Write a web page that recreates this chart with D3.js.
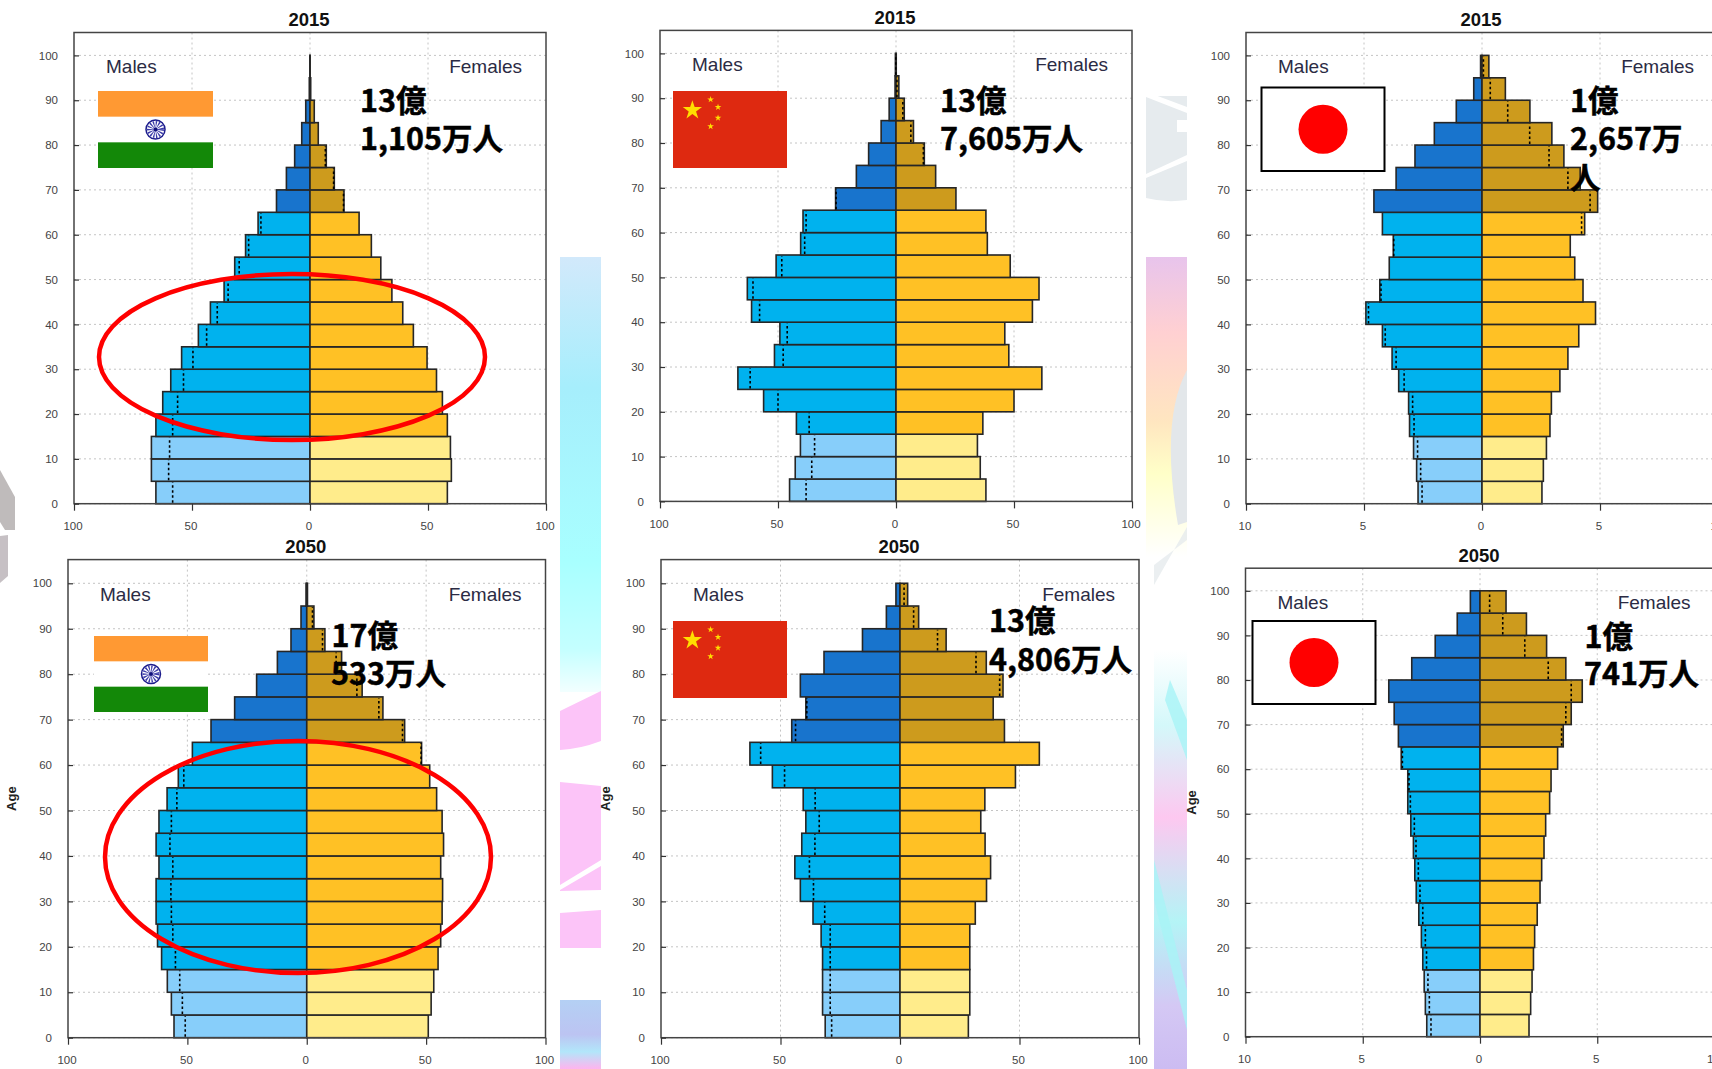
<!DOCTYPE html>
<html>
<head>
<meta charset="utf-8">
<script src="https://cdn.jsdelivr.net/npm/d3@7"></script>
<style>
    html, body { margin: 0; padding: 0; background: #fff; overflow: hidden; }
    svg { display: block; }
    text { font-family: "Liberation Sans", Arial, sans-serif; }
    .big { font-family: "Noto Sans CJK JP", sans-serif; font-weight: 700; font-size: 30.5px; fill: #000; stroke: #000; stroke-width: 0.5px; }
</style>
</head>
<body>
<svg id="chart" width="1712" height="1069"></svg>
<script>
// lower edge of each 5 year group, 0-4 ... 95-99
const ages = d3.range(0, 100, 5)

// values, youngest group first
const indiaMale2015 = [65.3, 67.2, 67.2, 65.3, 62.4, 59, 54.4, 47.3, 42.2, 36.4, 31.9, 27.3, 22, 14.2, 10, 6.5, 3.5, 1.8, 0.3, 0.05]
const indiaFemale2015 = [58.2, 59.9, 59.5, 58.2, 56.1, 53.6, 49.6, 43.8, 39.3, 34.7, 30, 26, 20.8, 14.4, 10.3, 6.9, 3.5, 1.8, 0.3, 0.05]
const chinaMale2015 = [45.1, 42.7, 40.5, 42.2, 56.1, 67, 51.5, 49.2, 61.2, 63, 50.8, 40.4, 39.4, 25.6, 16.8, 11.6, 6.3, 2.9, 0.4, 0.25]
const chinaFemale2015 = [38.1, 35.7, 34.5, 36.8, 50, 61.8, 47.8, 46.1, 57.8, 60.6, 48.4, 38.7, 38.1, 25.4, 16.8, 12, 7.4, 3.5, 1.2, 0.1]
const japanMale2015 = [2.71, 2.77, 2.9, 3.07, 3.11, 3.53, 3.81, 4.22, 4.92, 4.33, 3.93, 3.76, 4.22, 4.58, 3.64, 2.84, 2.02, 1.09, 0.35, 0.06]
const japanFemale2015 = [2.54, 2.6, 2.73, 2.88, 2.94, 3.3, 3.64, 4.1, 4.81, 4.28, 3.93, 3.74, 4.35, 4.9, 4.16, 3.47, 2.96, 2.03, 0.99, 0.29]
const indiaMale2050 = [55.6, 56.7, 58.4, 60.8, 62.5, 63.1, 63.1, 61.9, 63.1, 61.9, 58.5, 53.8, 47.9, 40.1, 30.2, 21, 12.3, 6.6, 2.4, 0.3]
const indiaFemale2050 = [50.9, 52.1, 53.2, 55, 56.1, 56.7, 56.9, 56.1, 57.3, 56.7, 54.4, 51.5, 48.1, 41, 31.9, 23.2, 14.6, 7.6, 3, 0.3]
const chinaMale2050 = [31.3, 32.4, 32.4, 32.4, 33, 36.4, 41.7, 44, 41.1, 39.4, 40.5, 53.4, 62.8, 45.3, 39.4, 41.7, 31.8, 15.7, 5.7, 1.7]
const chinaFemale2050 = [28.6, 29.2, 29.2, 29.2, 29.2, 31.5, 36.2, 37.9, 35.6, 33.8, 35.5, 48.3, 58.3, 43.7, 39, 43.1, 36.1, 19.3, 7.8, 3.2]
const japanMale2050 = [2.27, 2.33, 2.38, 2.44, 2.5, 2.61, 2.72, 2.78, 2.84, 2.95, 3.08, 3.08, 3.36, 3.48, 3.66, 3.89, 2.91, 1.91, 0.97, 0.41]
const japanFemale2050 = [2.09, 2.16, 2.22, 2.28, 2.33, 2.44, 2.56, 2.63, 2.73, 2.8, 2.97, 3.03, 3.31, 3.55, 3.89, 4.36, 3.66, 2.84, 1.98, 1.11]

// layout per chart, in page pixels
const panels = [
    { year: "2015", male: indiaMale2015, female: indiaFemale2015, max: 100, left: 74, x0: 310, right: 546, top: 32.5, y100: 55.4, bottom: 503.7, flag: { kind: "india", x: 98, y: 91, w: 115, h: 77 }, big: [["13億", 360, 112], ["1,105万人", 360, 150]], ring: { cx: 292, cy: 357, rx: 193, ry: 83 } },
    { year: "2015", male: chinaMale2015, female: chinaFemale2015, max: 100, left: 660, x0: 896, right: 1132, top: 30.4, y100: 53.4, bottom: 501.4, flag: { kind: "china", x: 673, y: 91, w: 114, h: 77 }, big: [["13億", 940, 112], ["7,605万人", 940, 150]] },
    { year: "2015", male: japanMale2015, female: japanFemale2015, max: 10, left: 1246, x0: 1482, right: 1718, top: 32.5, y100: 55.4, bottom: 503.7, flag: { kind: "japan", x: 1261.5, y: 87.5, w: 123, h: 83.5 }, big: [["1億", 1570, 112], ["2,657万", 1570, 150], ["人", 1570, 189]] },
    { year: "2050", male: indiaMale2050, female: indiaFemale2050, max: 100, left: 68, x0: 307, right: 545.5, top: 559.6, y100: 583.3, bottom: 1037.7, age: 16, flag: { kind: "india", x: 94, y: 636, w: 114, h: 76 }, big: [["17億", 331.5, 647], ["533万人", 331, 685]], ring: { cx: 298, cy: 857, rx: 193, ry: 116 } },
    { year: "2050", male: chinaMale2050, female: chinaFemale2050, max: 100, left: 661, x0: 900, right: 1139, top: 559.6, y100: 583.3, bottom: 1037.7, age: 610, flag: { kind: "china", x: 673, y: 621, w: 114, h: 77 }, big: [["13億", 989, 632], ["4,806万人", 989, 671]] },
    { year: "2050", male: japanMale2050, female: japanFemale2050, max: 10, left: 1245.5, x0: 1480, right: 1714.5, top: 568.2, y100: 590.8, bottom: 1036.7, age: 1196, flag: { kind: "japan", x: 1252.5, y: 621, w: 123, h: 83 }, big: [["1億", 1584.5, 647.5], ["741万人", 1584, 685]] },
]

const maleColor = (age) => (age < 15 ? "#87CEFA" : age < 65 ? "#00B2EE" : "#1874CD")
const femaleColor = (age) => (age < 15 ? "#FFEC8B" : age < 65 ? "#FFC125" : "#CD9B1D")

const svg = d3.select("#chart")
const defs = svg.append("defs")

function gradient(id, stops) {
    const g = defs.append("linearGradient").attr("id", id).attr("x1", 0).attr("x2", 0).attr("y1", 0).attr("y2", 1)
    stops.forEach(([o, c]) => g.append("stop").attr("offset", o).attr("stop-color", c))
}

// bits of the slide background that show between the charts
function drawBackground() {
    const bg = svg.append("g")
    gradient("stripA", [[0, "#d2e9fb"], [0.3, "#a6eefc"], [0.7, "#a8ffff"], [0.9, "#c4ffff"], [1, "#f2ffff"]])
    gradient("stripB", [[0, "#b4d0f4"], [0.5, "#bcc4f2"], [0.75, "#b2e6fa"], [1, "#ffb4ee"]])
    gradient("stripC", [[0, "#e8c4ec"], [0.25, "#ffd0d2"], [0.55, "#ffe6c0"], [0.72, "#ffffc8"], [1, "#ffffff"]])
    gradient("stripD", [[0, "#ffffff"], [0.18, "#d4f8fa"], [0.4, "#fdc8f0"], [0.65, "#b4f4f6"], [0.85, "#d4c8f4"], [1, "#ccbcf2"]])

    bg.append("rect").attr("x", 560).attr("y", 257).attr("width", 41).attr("height", 435).attr("fill", "url(#stripA)")
    bg.append("path").attr("d", "M560,711L601,691V741Q580,749 560,750Z").attr("fill", "#fcc4f8")
    bg.append("path").attr("d", "M560,782L601,786V948L560,948Z").attr("fill", "#fcc4f8")
    bg.append("path").attr("d", "M560,885L601,860V866L560,890ZM560,891L601,890V910L560,913Z").attr("fill", "#ffffff")
    bg.append("rect").attr("x", 560).attr("y", 1000).attr("width", 41).attr("height", 69).attr("fill", "url(#stripB)")

    bg.append("path").attr("d", "M1146,96H1187V200Q1165,203 1146,198Z").attr("fill", "#e6ebee")
    bg.append("path").attr("d", "M1155,95L1187,107V113L1146,97V95Z").attr("fill", "#fff")
    bg.append("path").attr("d", "M1146,174L1187,155V161L1146,178Z").attr("fill", "#fff")
    bg.append("rect").attr("x", 1177).attr("y", 120).attr("width", 10).attr("height", 12).attr("fill", "#fff")
    bg.append("rect").attr("x", 1146).attr("y", 257).attr("width", 41).attr("height", 300).attr("fill", "url(#stripC)")
    bg.append("path").attr("d", "M1187,370Q1160,420 1178,525L1187,522Z").attr("fill", "#e3e7ea")
    bg.append("path").attr("d", "M1154,585L1187,527V540L1154,565Z").attr("fill", "#e6ebee").attr("opacity", 0.8)
    bg.append("rect").attr("x", 1154).attr("y", 650).attr("width", 33).attr("height", 419).attr("fill", "url(#stripD)")
    bg.append("path").attr("d", "M1170,680L1187,720V760L1165,700ZM1154,860L1187,990V1030L1154,900Z").attr("fill", "#a8f4f6").attr("opacity", 0.8)

    bg.append("path").attr("d", "M0,470L15,497V530H5L0,522Z").attr("fill", "#bfbbbb")
    bg.append("path").attr("d", "M0,536L8,535V576L0,583Z").attr("fill", "#c6c0c4")
}

function drawFlag(g, f) {
    if (f.kind === "india") {
        g.append("rect").attr("x", f.x).attr("y", f.y).attr("width", f.w).attr("height", f.h).attr("fill", "#fff")
        g.append("rect").attr("x", f.x).attr("y", f.y).attr("width", f.w).attr("height", f.h / 3).attr("fill", "#FF9933")
        g.append("rect").attr("x", f.x).attr("y", f.y + (f.h * 2) / 3).attr("width", f.w).attr("height", f.h / 3).attr("fill", "#138808")
        const cx = f.x + f.w / 2
        const cy = f.y + f.h / 2
        g.append("circle").attr("cx", cx).attr("cy", cy).attr("r", 9.5).attr("fill", "#fff").attr("stroke", "#1c1c8c").attr("stroke-width", 1.5)
        g.append("circle").attr("cx", cx).attr("cy", cy).attr("r", 5).attr("fill", "none").attr("stroke", "#3a3aa8").attr("stroke-width", 7).attr("stroke-dasharray", "1 1.1")
        g.append("circle").attr("cx", cx).attr("cy", cy).attr("r", 2).attr("fill", "#10107c")
    } else if (f.kind === "china") {
        g.append("rect").attr("x", f.x).attr("y", f.y).attr("width", f.w).attr("height", f.h).attr("fill", "#DE2910")
        const star = d3.symbol().type(d3.symbolStar)
        g.append("path").attr("d", star.size(115)()).attr("fill", "#FFDE00")
            .attr("transform", `translate(${f.x + f.w * 0.17}, ${f.y + f.h * 0.25})`)
        const small = [[0.33, 0.11], [0.395, 0.21], [0.395, 0.35], [0.33, 0.46]]
        small.forEach(([a, b]) => {
            g.append("path").attr("d", star.size(14)()).attr("fill", "#FFDE00")
                .attr("transform", `translate(${f.x + f.w * a}, ${f.y + f.h * b})`)
        })
    } else {
        g.append("rect").attr("x", f.x).attr("y", f.y).attr("width", f.w).attr("height", f.h).attr("fill", "#fff").attr("stroke", "#000").attr("stroke-width", 2)
        g.append("circle").attr("cx", f.x + f.w / 2).attr("cy", f.y + f.h / 2).attr("r", 24.5).attr("fill", "#FF0000")
    }
}

function drawPanel(p) {
    const g = svg.append("g")
    const x = d3.scaleLinear().domain([-p.max, p.max]).range([p.left, p.right])
    const y = d3.scaleLinear().domain([0, 100]).range([p.bottom, p.y100])
    const rows = ages.map((age, i) => ({ age, m: p.male[i], f: p.female[i] }))
    const xTicks = [-p.max, -p.max / 2, 0, p.max / 2, p.max]
    const yTicks = d3.range(0, 101, 10)

    g.append("rect")
        .attr("x", p.left)
        .attr("y", p.top)
        .attr("width", p.right - p.left)
        .attr("height", p.bottom - p.top)
        .attr("fill", "#fff")

    // dotted grid
    g.append("g")
        .selectAll("line")
        .data(yTicks)
        .join("line")
        .attr("x1", p.left)
        .attr("x2", p.right)
        .attr("y1", (d) => y(d))
        .attr("y2", (d) => y(d))
        .attr("stroke", "#c4c4c4")
        .attr("stroke-width", 1)
        .attr("stroke-dasharray", "2 3")
    g.append("g")
        .selectAll("line")
        .data(xTicks.slice(1, 4))
        .join("line")
        .attr("x1", (d) => x(d))
        .attr("x2", (d) => x(d))
        .attr("y1", p.top)
        .attr("y2", p.bottom)
        .attr("stroke", "#c4c4c4")
        .attr("stroke-width", 1)
        .attr("stroke-dasharray", "2 3")

    g.append("g")
        .selectAll("rect")
        .data(rows)
        .join("rect")
        .attr("x", (d) => x(-d.m))
        .attr("y", (d) => y(d.age + 5))
        .attr("width", (d) => x(0) - x(-d.m))
        .attr("height", (d) => y(d.age) - y(d.age + 5))
        .attr("fill", (d) => maleColor(d.age))
        .attr("stroke", "#262626")
        .attr("stroke-width", 1.6)
    g.append("g")
        .selectAll("rect")
        .data(rows)
        .join("rect")
        .attr("x", x(0))
        .attr("y", (d) => y(d.age + 5))
        .attr("width", (d) => x(d.f) - x(0))
        .attr("height", (d) => y(d.age) - y(d.age + 5))
        .attr("fill", (d) => femaleColor(d.age))
        .attr("stroke", "#262626")
        .attr("stroke-width", 1.6)

    // dotted marker: the smaller sex mirrored onto the larger side
    g.append("g")
        .selectAll("line")
        .data(rows.filter((d) => d.m !== d.f))
        .join("line")
        .attr("x1", (d) => (d.m > d.f ? x(-d.f) : x(d.m)))
        .attr("x2", (d) => (d.m > d.f ? x(-d.f) : x(d.m)))
        .attr("y1", (d) => y(d.age) - 1)
        .attr("y2", (d) => y(d.age + 5) + 1)
        .attr("stroke", "#000")
        .attr("stroke-width", 1.6)
        .attr("stroke-dasharray", "2.5 2.5")

    g.append("rect")
        .attr("x", p.left)
        .attr("y", p.top)
        .attr("width", p.right - p.left)
        .attr("height", p.bottom - p.top)
        .attr("fill", "none")
        .attr("stroke", "#444")
        .attr("stroke-width", 1.5)

    const axisLeft = g.append("g")
        .attr("transform", `translate(${p.left}, 0)`)
        .call(d3.axisLeft(y).tickValues(yTicks).tickSize(-5).tickPadding(16))
    const axisBottom = g.append("g")
        .attr("transform", `translate(0, ${p.bottom})`)
        .call(d3.axisBottom(x).tickValues(xTicks).tickSize(7).tickPadding(11).tickFormat((d) => Math.abs(d)))
    for (const a of [axisLeft, axisBottom]) {
        a.select(".domain").remove()
        a.selectAll("line").attr("stroke", "#333").attr("stroke-width", 1.2)
        a.selectAll("text").attr("font-family", '"Liberation Sans", Arial, sans-serif').attr("font-size", 11.5).attr("fill", "#444")
    }
    axisBottom.selectAll("text").attr("dx", -1.5)

    g.append("text")
        .attr("x", x(0) - 1)
        .attr("y", p.top - 6.5)
        .attr("text-anchor", "middle")
        .attr("font-weight", "bold")
        .attr("font-size", 18.5)
        .attr("fill", "#111")
        .text(p.year)

    const labelY = y(100) + 18
    g.append("text").attr("x", p.left + 32).attr("y", labelY).attr("font-size", 19).attr("fill", "#2b2b44").text("Males")
    g.append("text").attr("x", p.right - 24).attr("y", labelY).attr("text-anchor", "end").attr("font-size", 19).attr("fill", "#2b2b44").text("Females")

    if (p.age) {
        g.append("text")
            .attr("transform", `translate(${p.age}, ${(p.top + p.bottom) / 2}) rotate(-90)`)
            .attr("text-anchor", "middle")
            .attr("font-size", 13)
            .attr("font-weight", "bold")
            .attr("fill", "#222")
            .text("Age")
    }

    drawFlag(g, p.flag)

    if (p.ring) {
        g.append("ellipse")
            .attr("cx", p.ring.cx)
            .attr("cy", p.ring.cy)
            .attr("rx", p.ring.rx)
            .attr("ry", p.ring.ry)
            .attr("fill", "none")
            .attr("stroke", "#FF0000")
            .attr("stroke-width", 4.5)
    }

    g.selectAll("text.big")
        .data(p.big)
        .join("text")
        .attr("class", "big")
        .attr("x", (d) => d[1])
        .attr("y", (d) => d[2])
        .text((d) => d[0])
}

drawBackground()
panels.forEach(drawPanel)
</script>
</body>
</html>
